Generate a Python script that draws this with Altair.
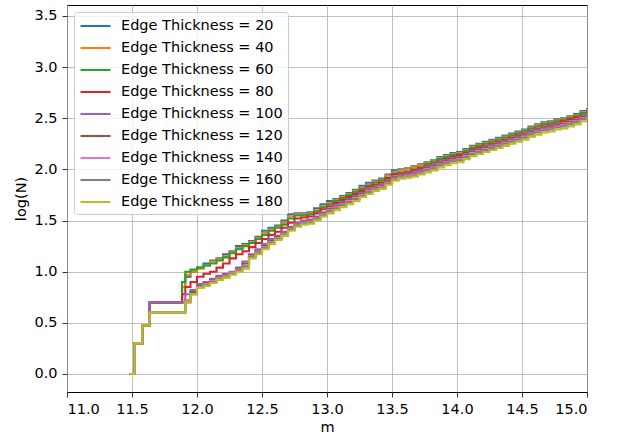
import altair as alt
import pandas as pd

# m positions where the step values change
M = [11.48, 11.52, 11.58, 11.635, 11.885, 11.91, 11.95,
     12.0, 12.05, 12.1, 12.15, 12.2, 12.25, 12.3, 12.35, 12.4, 12.45,
     12.5, 12.55, 12.6, 12.65, 12.7, 12.75, 12.8, 12.85, 12.9, 12.95,
     13.0, 13.05, 13.1, 13.15, 13.2, 13.25, 13.3, 13.35, 13.4, 13.45,
     13.5, 13.55, 13.6, 13.65, 13.7, 13.75, 13.8, 13.85, 13.9, 13.95,
     14.0, 14.05, 14.1, 14.15, 14.2, 14.25, 14.3, 14.35, 14.4, 14.45,
     14.5, 14.55, 14.6, 14.65, 14.7, 14.75, 14.8, 14.85, 14.9, 14.95,
     15.0, 15.05]

THICKNESS = [20, 40, 60, 80, 100, 120, 140, 160, 180]

T20 = [0, 0.301, 0.477, 0.699, 0.85, 0.95, 1.0,
       1.04, 1.08, 1.11, 1.13, 1.17, 1.2, 1.25, 1.27, 1.3, 1.34, 1.4, 1.43, 1.45, 1.5, 1.56, 1.57, 1.57, 1.58, 1.62, 1.66, 1.69,
       1.71, 1.74, 1.77, 1.8, 1.84, 1.87, 1.89, 1.91, 1.95, 1.99,
       2.0, 2.01, 2.03, 2.05, 2.07, 2.09, 2.12, 2.14, 2.16, 2.17,
       2.2, 2.23, 2.25, 2.27, 2.29, 2.31, 2.33, 2.35, 2.37, 2.39,
       2.42, 2.44, 2.46, 2.47, 2.49, 2.5, 2.52, 2.54, 2.57, 2.59,
       2.6]
T40 = [0, 0.301, 0.477, 0.699, 0.85, 0.97, 1.0,
       1.03, 1.06, 1.1, 1.12, 1.15, 1.19, 1.23, 1.26, 1.29, 1.33, 1.38, 1.41, 1.44, 1.48, 1.54, 1.56, 1.56, 1.57, 1.6, 1.64, 1.67,
       1.7, 1.73, 1.76, 1.79, 1.82, 1.85, 1.88, 1.9, 1.94, 1.97,
       1.99, 2.0, 2.02, 2.04, 2.06, 2.08, 2.11, 2.13, 2.15, 2.16,
       2.19, 2.22, 2.24, 2.26, 2.28, 2.3, 2.32, 2.34, 2.36, 2.38,
       2.41, 2.43, 2.45, 2.46, 2.48, 2.49, 2.51, 2.53, 2.56, 2.58,
       2.59]
T60 = [0, 0.301, 0.477, 0.699, 0.9, 1.0, 1.02,
       1.04, 1.06, 1.08, 1.11, 1.14, 1.18, 1.22, 1.25, 1.28, 1.32, 1.36, 1.4, 1.43, 1.46, 1.52, 1.55, 1.55, 1.56, 1.59, 1.63, 1.66,
       1.69, 1.72, 1.75, 1.78, 1.81, 1.84, 1.87, 1.89, 1.92, 1.96,
       1.97, 1.98, 2.0, 2.02, 2.05, 2.07, 2.1, 2.12, 2.14, 2.15,
       2.18, 2.21, 2.23, 2.25, 2.27, 2.29, 2.31, 2.33, 2.35, 2.37,
       2.4, 2.42, 2.44, 2.45, 2.47, 2.48, 2.5, 2.52, 2.55, 2.57,
       2.58]
T80 = [0, 0.301, 0.477, 0.699, 0.78, 0.85, 0.9,
       0.95, 0.98, 1.0, 1.04, 1.08, 1.13, 1.17, 1.2, 1.24, 1.28, 1.32, 1.36, 1.39, 1.43, 1.48, 1.52, 1.53, 1.54, 1.57, 1.61, 1.64,
       1.67, 1.7, 1.73, 1.76, 1.79, 1.83, 1.85, 1.87, 1.91, 1.95,
       1.96, 1.97, 1.99, 2.01, 2.03, 2.05, 2.08, 2.1, 2.12, 2.14,
       2.16, 2.19, 2.21, 2.23, 2.25, 2.27, 2.29, 2.31, 2.33, 2.35,
       2.38, 2.4, 2.42, 2.43, 2.45, 2.47, 2.49, 2.51, 2.53, 2.55,
       2.56]
T100 = [0, 0.301, 0.477, 0.699, 0.7, 0.78, 0.82,
        0.88, 0.9, 0.93, 0.96, 0.98, 1.0, 1.04, 1.1, 1.17, 1.22, 1.27, 1.32, 1.35, 1.39, 1.44, 1.48, 1.5, 1.51, 1.54, 1.58, 1.62,
        1.65, 1.68, 1.71, 1.74, 1.77, 1.81, 1.83, 1.85, 1.89, 1.93,
        1.95, 1.96, 1.97, 1.99, 2.02, 2.04, 2.07, 2.09, 2.11, 2.12,
        2.15, 2.18, 2.2, 2.22, 2.24, 2.26, 2.28, 2.3, 2.32, 2.34,
        2.37, 2.39, 2.41, 2.42, 2.44, 2.45, 2.47, 2.49, 2.52, 2.54,
        2.55]
T120 = [0, 0.301, 0.477, 0.602, 0.602, 0.72, 0.8,
        0.86, 0.89, 0.92, 0.95, 0.97, 0.99, 1.03, 1.08, 1.16, 1.2, 1.25, 1.3, 1.34, 1.38, 1.43, 1.47, 1.49, 1.5, 1.53, 1.57, 1.61,
        1.64, 1.67, 1.7, 1.73, 1.76, 1.8, 1.82, 1.84, 1.88, 1.92,
        1.94, 1.95, 1.96, 1.98, 2.01, 2.03, 2.06, 2.08, 2.1, 2.11,
        2.14, 2.17, 2.19, 2.21, 2.23, 2.25, 2.27, 2.29, 2.31, 2.33,
        2.36, 2.38, 2.4, 2.41, 2.43, 2.44, 2.46, 2.48, 2.51, 2.53,
        2.54]
T140 = [0, 0.301, 0.477, 0.602, 0.602, 0.72, 0.78,
        0.85, 0.88, 0.91, 0.94, 0.96, 0.99, 1.02, 1.06, 1.15, 1.19, 1.24, 1.29, 1.33, 1.37, 1.42, 1.46, 1.48, 1.49, 1.52, 1.56, 1.6,
        1.63, 1.66, 1.69, 1.72, 1.75, 1.79, 1.81, 1.83, 1.87, 1.91,
        1.93, 1.94, 1.95, 1.97, 2.0, 2.02, 2.05, 2.07, 2.09, 2.1,
        2.13, 2.16, 2.18, 2.2, 2.22, 2.24, 2.26, 2.28, 2.3, 2.32,
        2.35, 2.37, 2.39, 2.4, 2.42, 2.43, 2.45, 2.47, 2.5, 2.52,
        2.53]
T160 = [0, 0.301, 0.477, 0.602, 0.602, 0.7, 0.78,
        0.84, 0.87, 0.9, 0.93, 0.95, 0.98, 1.01, 1.05, 1.14, 1.18, 1.23, 1.28, 1.32, 1.36, 1.41, 1.45, 1.47, 1.48, 1.51, 1.55, 1.59,
        1.62, 1.65, 1.68, 1.71, 1.74, 1.78, 1.8, 1.82, 1.86, 1.9,
        1.92, 1.93, 1.94, 1.96, 1.99, 2.01, 2.04, 2.06, 2.08, 2.09,
        2.12, 2.15, 2.17, 2.19, 2.21, 2.23, 2.25, 2.27, 2.29, 2.31,
        2.34, 2.36, 2.38, 2.39, 2.41, 2.42, 2.44, 2.46, 2.49, 2.51,
        2.52]
T180 = [0, 0.301, 0.477, 0.602, 0.602, 0.7, 0.78,
        0.84, 0.86, 0.89, 0.92, 0.94, 0.97, 1.0, 1.03, 1.13, 1.17, 1.22, 1.27, 1.31, 1.35, 1.4, 1.44, 1.46, 1.47, 1.5, 1.54, 1.57,
        1.6, 1.63, 1.66, 1.69, 1.73, 1.76, 1.79, 1.81, 1.85, 1.89,
        1.91, 1.92, 1.93, 1.95, 1.97, 1.99, 2.02, 2.04, 2.06, 2.07,
        2.1, 2.13, 2.15, 2.17, 2.19, 2.21, 2.23, 2.25, 2.27, 2.29,
        2.32, 2.34, 2.36, 2.37, 2.39, 2.4, 2.42, 2.44, 2.47, 2.49,
        2.5]

SERIES = [T20, T40, T60, T80, T100, T120, T140, T160, T180]
COLORS = ["#1f77b4", "#ff7f0e", "#2ca02c", "#d62728", "#9467bd",
          "#8c564b", "#e377c2", "#7f7f7f", "#bcbd22"]
X_TICKS = [11.0, 11.5, 12.0, 12.5, 13.0, 13.5, 14.0, 14.5, 15.0]
Y_TICKS = [0.0, 0.5, 1.0, 1.5, 2.0, 2.5, 3.0, 3.5]

labels = [f"Edge Thickness = {t}" for t in THICKNESS]
rows = []
for k, (lab, vals) in enumerate(zip(labels, SERIES)):
    for m, v in zip(M, vals):
        rows.append({"series": lab, "k": k, "m": m, "logN": v})
df = pd.DataFrame(rows)

FONT = "DejaVu Sans"
FS = 14.5

chart = alt.Chart(df).mark_line(
    interpolate="step-after", strokeWidth=2.1, clip=True
).encode(
    x=alt.X("m:Q",
            scale=alt.Scale(domain=[11.0, 15.0], nice=False, zero=False),
            axis=alt.Axis(values=X_TICKS, format=".1f", title="m",
                          titlePadding=5)),
    y=alt.Y("logN:Q",
            scale=alt.Scale(domain=[-0.176, 3.607], nice=False, zero=False),
            axis=alt.Axis(values=Y_TICKS, format=".1f", title="log(N)",
                          titlePadding=5)),
    color=alt.Color("series:N",
                    scale=alt.Scale(domain=labels, range=COLORS),
                    legend=alt.Legend(title=None, orient="none",
                                      legendX=7, legendY=7,
                                      symbolType="M-1,0L3,0",
                                      symbolSize=225,
                                      symbolStrokeWidth=2.1,
                                      labelFontSize=FS,
                                      labelFont=FONT,
                                      labelColor="#000",
                                      labelLimit=400,
                                      labelOffset=24,
                                      rowPadding=6,
                                      padding=5,
                                      fillColor="rgba(255,255,255,0.8)",
                                      strokeColor="#cccccc",
                                      cornerRadius=3)),
).properties(
    width=520, height=387,
    padding={"left": 67, "top": 5, "right": 34, "bottom": 45},
    autosize=alt.AutoSizeParams(type="none"),
).configure_view(
    stroke="#000", strokeWidth=1
).configure_axis(
    grid=True, gridColor="#b0b0b0", gridWidth=0.8,
    domain=False,
    ticks=True, tickColor="#000", tickSize=5, tickWidth=0.8,
    labelFont=FONT, labelFontSize=FS, labelColor="#000", labelPadding=5,
    titleFont=FONT, titleFontSize=FS, titleFontWeight="normal", titleColor="#000",
)

chart.save("out.html", embed_options={"renderer": "svg", "actions": False})
